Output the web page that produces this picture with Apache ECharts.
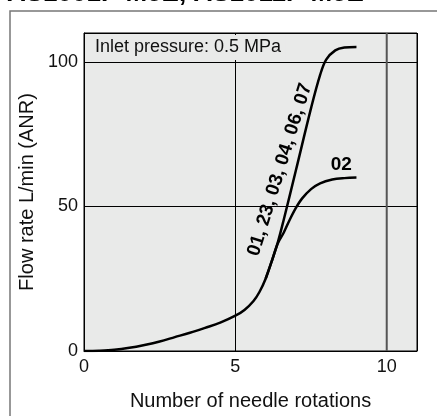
<!DOCTYPE html>
<html>
<head>
<meta charset="utf-8">
<script src="https://cdn.jsdelivr.net/npm/echarts@6/dist/echarts.min.js"></script>
<style>html,body{margin:0;padding:0;background:#fff}#c{width:437px;height:416px}</style>
</head>
<body>
<div id="c"></div>
<script>
// Data
var xTicks = [0, 5, 10];
var yTicks = [0, 50, 100];
var mainLabel = '01, 23, 03, 04, 06, 07';
var mainSeries = [[0,0],[0.5,0.1],[1,0.4],[1.5,1.1],[2,2.1],[2.5,3.3],[3,4.8],[3.5,6.3],[4,8],[4.5,9.8],[5,12.2],[5.3,14.2],[5.6,17.3],[5.8,20.5],[6,25],[6.2,31],[6.4,37.5],[6.6,45.5],[7,62.5],[7.5,84],[7.8,95.5],[8,100.8],[8.3,104],[8.6,105],[9,105.2]];
var label02 = '02';
var series02 = [[6,25],[6.2,31],[6.4,37.2],[6.6,41],[6.8,45.5],[7,49.5],[7.2,52.7],[7.5,56],[7.8,58],[8.2,59.3],[8.6,59.8],[9,60]];
var titleText = 'AS1001F-M5E, AS1011F-M5E';
var noteText = 'Inlet pressure: 0.5 MPa';
var xName = 'Number of needle rotations';
var yName = 'Flow rate L/min (ANR)';

var FONT = 'Liberation Sans, Arial, Helvetica, sans-serif';
var chart = echarts.init(document.getElementById('c'), null, {renderer: 'canvas'});
var option = {
  animation: false,
  backgroundColor: '#fff',
  grid: {left: 84, right: 20, top: 33, bottom: 59, show: true, backgroundColor: '#e9eae9', borderColor: '#000', borderWidth: 1},
  xAxis: {
    type: 'value', min: 0, max: 11, interval: 5,
    name: xName, nameLocation: 'middle', nameGap: 40,
    nameTextStyle: {fontFamily: FONT, fontSize: 20, color: '#111'},
    axisLine: {show: true, lineStyle: {color: '#000', width: 1}},
    axisTick: {show: false},
    axisLabel: {fontFamily: FONT, fontSize: 18, color: '#111', margin: 7, showMaxLabel: false,
      formatter: function (v) { return xTicks.indexOf(v) >= 0 ? String(v) : ''; }},
    splitLine: {show: true, lineStyle: {color: ['#000', '#000', '#444', '#000'], width: 1}}
  },
  yAxis: {
    type: 'value', min: 0, max: 110, interval: 50,
    name: yName, nameLocation: 'middle', nameGap: 41,
    nameTextStyle: {fontFamily: FONT, fontSize: 20, color: '#111'},
    axisLine: {show: true, lineStyle: {color: '#000', width: 1}},
    axisTick: {show: false},
    axisLabel: {fontFamily: FONT, fontSize: 18, color: '#111', margin: 6, showMaxLabel: false,
      formatter: function (v) { return yTicks.indexOf(v) >= 0 ? String(v) : ''; }},
    splitLine: {show: true, lineStyle: {color: '#000', width: 1}}
  },
  series: [
    {type: 'line', data: mainSeries, smooth: 0.35, showSymbol: false, symbol: 'none',
      lineStyle: {color: '#000', width: 2.5}, z: 3},
    {type: 'line', data: series02, smooth: 0.35, showSymbol: false, symbol: 'none',
      lineStyle: {color: '#000', width: 2.5}, z: 3}
  ]
};
chart.setOption(option);

var pMain = chart.convertToPixel({gridIndex: 0}, [6.47, 63.4]);
var p02 = chart.convertToPixel({gridIndex: 0}, [8.5, 64.5]);
var pNote = chart.convertToPixel({gridIndex: 0}, [0, 110]);
var p10 = chart.convertToPixel({gridIndex: 0}, [10, 0]);
var p10t = chart.convertToPixel({gridIndex: 0}, [10, 110]);

chart.setOption({
  graphic: [
    {type: 'rect', silent: true, z: 0, shape: {x: 10, y: 11, width: 445, height: 425},
      style: {fill: 'none', stroke: '#777', lineWidth: 1.5}},
    {type: 'line', silent: true, z: 2, shape: {x1: p10[0], y1: p10[1], x2: p10t[0], y2: p10t[1]},
      style: {stroke: '#555', lineWidth: 2}},
    {type: 'text', silent: true, x: 7, y: 7, style: {text: titleText, font: 'bold 26px ' + FONT, fill: '#000', textVerticalAlign: 'bottom', verticalAlign: 'bottom'}},
    {type: 'text', silent: true, z: 10, x: pNote[0] + 1, y: pNote[1] + 2,
      style: {text: noteText, font: '18px ' + FONT, fill: '#111', backgroundColor: '#e9eae9', padding: [3, 4, 4, 10]}},
    {type: 'text', silent: true, z: 10, x: pMain[0], y: pMain[1] + 2, rotation: 72.8 * Math.PI / 180,
      style: {text: mainLabel, font: 'bold 19px ' + FONT, fill: '#000', align: 'center', verticalAlign: 'middle'}},
    {type: 'text', silent: true, z: 10, x: p02[0], y: p02[1],
      style: {text: label02, font: 'bold 19px ' + FONT, fill: '#000', align: 'center', verticalAlign: 'middle'}}
  ]
});
</script>
</body>
</html>
